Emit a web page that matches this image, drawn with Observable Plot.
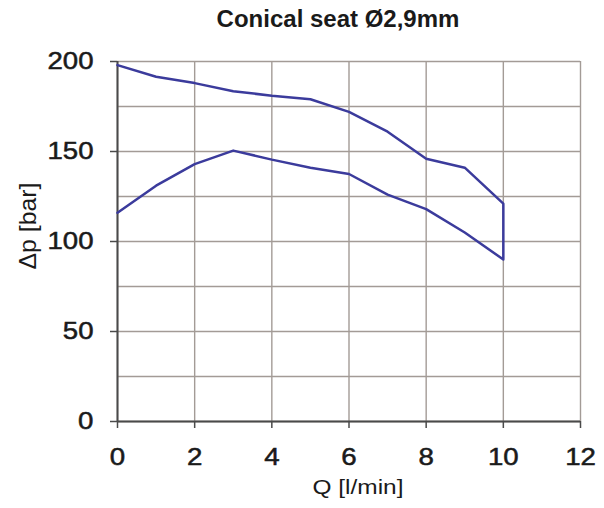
<!DOCTYPE html>
<html>
<head>
<meta charset="utf-8">
<script src="https://cdn.jsdelivr.net/npm/d3@7"></script>
<script src="https://cdn.jsdelivr.net/npm/@observablehq/plot@0.6"></script>
<style>
  body { margin: 0; background: #fff; font-family: "Liberation Sans", Arial, sans-serif; }
  #wrap { width: 604px; }
  #title { height: 40px; box-sizing: border-box; padding-top: 7px; padding-left: 144px; width: 532px;
           text-align: center; font-weight: bold; font-size: 24px; line-height: 24px; color: #1a1a1a; }
  svg text { paint-order: stroke; }
</style>
</head>
<body>
<div id="wrap">
  <div id="title">Conical seat Ø2,9mm</div>
  <div id="chart"></div>
</div>
<script>
const Q = [0, 1, 2, 3, 4, 5, 6, 7, 8, 9, 10];
const upper = [198, 191.5, 188, 183.5, 181, 179, 172, 161, 146, 141, 121];
const lower = [116, 131, 143, 150.5, 145.5, 141, 137.5, 126, 118, 105, 90];
const xTicks = [0, 2, 4, 6, 8, 10, 12];
const yTicks = [0, 50, 100, 150, 200];
const yGrid = [0, 25, 50, 75, 100, 125, 150, 175, 200];
const xLabel = "Q [l/min]";
const yLabel = "Δp [bar]";

// one continuous curve: upper branch out, lower branch back
const curve = [
  ...Q.map((q, i) => ({q, dp: upper[i]})),
  ...Q.map((q, i) => ({q, dp: lower[i]})).reverse()
];

const grid = "#a39b96";
const axisCol = "#4a4a4a";
const plot = Plot.plot({
  width: 604,
  height: 468,
  marginTop: 21,
  marginBottom: 87,
  marginLeft: 117,
  marginRight: 24,
  style: {fontFamily: "'Liberation Sans', Arial, sans-serif", color: "#1a1a1a", background: "transparent"},
  x: {domain: [0, 12]},
  y: {domain: [0, 200]},
  marks: [
    Plot.ruleX(xTicks, {stroke: grid, strokeWidth: 1.4}),
    Plot.ruleY(yGrid, {stroke: grid, strokeWidth: 1.4}),
    Plot.ruleX([0], {stroke: axisCol, strokeWidth: 2}),
    Plot.ruleY([0], {stroke: axisCol, strokeWidth: 2}),
    Plot.axisX({ticks: xTicks, tickSize: 7, tickPadding: 20, fontSize: 23, stroke: axisCol, strokeWidth: 1.5, label: null}),
    Plot.axisY({ticks: yTicks, tickSize: 7, tickPadding: 17, fontSize: 23, stroke: axisCol, strokeWidth: 1.5, label: null}),
    Plot.line(curve, {x: "q", y: "dp", stroke: "#3b3b9c", strokeWidth: 2.5, strokeLinejoin: "round"}),
    Plot.text([xLabel], {frameAnchor: "bottom", fontSize: 21, fill: "#1a1a1a"}),
    Plot.text([yLabel], {frameAnchor: "left", rotate: -90, fontSize: 24, fill: "#1a1a1a"})
  ]
});
document.getElementById("chart").appendChild(plot);

function widen(t, k) {
  const w = t.getComputedTextLength();
  t.setAttribute("textLength", (w * k).toFixed(1));
  t.setAttribute("lengthAdjust", "spacingAndGlyphs");
}
// widen tick-label glyphs horizontally and give them a touch more weight, as in the reference
plot.querySelectorAll('g[aria-label="x-axis tick label"] text, g[aria-label="y-axis tick label"] text').forEach(t => {
  widen(t, 1.2);
  t.setAttribute("stroke", "#1a1a1a");
  t.setAttribute("stroke-width", "0.5");
});
// place the axis titles explicitly
function place(t, transform, size, len) {
  t.parentNode.removeAttribute("transform");
  t.removeAttribute("x");
  t.removeAttribute("y");
  t.setAttribute("transform", transform);
  t.setAttribute("text-anchor", "middle");
  t.setAttribute("dy", "0.32em");
  t.style.fontSize = size + "px";
  t.setAttribute("textLength", len);
  t.setAttribute("lengthAdjust", "spacingAndGlyphs");
}
plot.querySelectorAll('text').forEach(t => {
  if (t.textContent === xLabel) place(t, "translate(358,447.5)", 21, 91);
  if (t.textContent === yLabel) place(t, "translate(28,186) rotate(-90)", 24, 87);
});
</script>
</body>
</html>
